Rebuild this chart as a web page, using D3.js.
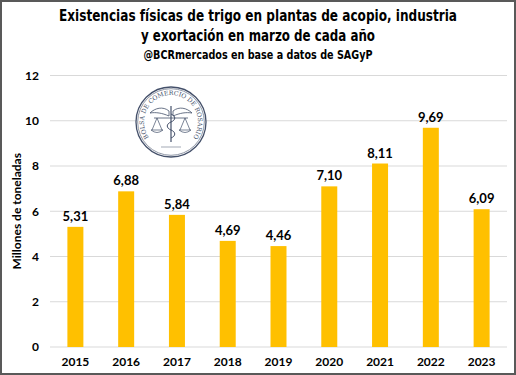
<!DOCTYPE html>
<html>
<head>
<meta charset="utf-8">
<script src="https://cdn.jsdelivr.net/npm/d3@7"></script>
<style>
  body { margin: 0; background: #fff; }
  svg { display: block; }
</style>
</head>
<body>
<div id="chart"></div>
<script>
const years = ["2015", "2016", "2017", "2018", "2019", "2020", "2021", "2022", "2023"];
const stocks = [5.31, 6.88, 5.84, 4.69, 4.46, 7.10, 8.11, 9.69, 6.09];
const yTicks = [0, 2, 4, 6, 8, 10, 12];
const titleLines = ["Existencias físicas de trigo en plantas de acopio, industria", "y exortación en marzo de cada año"];
const subtitle = "@BCRmercados en base a datos de SAGyP";
const yLabel = "Millones de toneladas";

const W = 516, H = 375;
const margin = { top: 75.5, right: 9, bottom: 28, left: 50 };
const width = W - margin.left - margin.right,
      height = H - margin.top - margin.bottom;

const svg = d3.select("#chart").append("svg")
  .attr("width", W)
  .attr("height", H);

// outer frame
svg.append("rect")
  .attr("x", 1).attr("y", 1)
  .attr("width", W - 2).attr("height", H - 2)
  .attr("fill", "#fff")
  .attr("stroke", "#595959")
  .attr("stroke-width", 2);

// titles (condensed bold, squeezed to the reference widths)
const titleFont = "'DejaVu Sans Condensed', 'Liberation Sans Narrow', sans-serif";
const titleLens = [398, 234];
svg.selectAll(".title")
  .data(titleLines)
  .join("text")
  .attr("class", "title")
  .attr("x", 258)
  .attr("y", (d, i) => 21 + i * 20)
  .attr("text-anchor", "middle")
  .attr("textLength", (d, i) => titleLens[i])
  .attr("lengthAdjust", "spacingAndGlyphs")
  .style("font-family", titleFont)
  .style("font-weight", "bold")
  .style("font-size", "15px")
  .attr("fill", "#000")
  .text(d => d);

svg.append("text")
  .attr("x", 258)
  .attr("y", 59)
  .attr("text-anchor", "middle")
  .attr("textLength", 229)
  .attr("lengthAdjust", "spacingAndGlyphs")
  .style("font-family", titleFont)
  .style("font-weight", "bold")
  .style("font-size", "12.5px")
  .text(subtitle);

const g = svg.append("g")
  .attr("transform", `translate(${margin.left},${margin.top})`);

// scales
const x = d3.scaleBand()
  .domain(years)
  .range([0, width])
  .paddingInner(0.685)
  .paddingOuter(0.3425);

const y = d3.scaleLinear()
  .domain([0, 12])
  .range([height, 0]);

const labelFont = "Lato, 'Open Sans', sans-serif";

// grid
g.selectAll(".grid")
  .data(yTicks)
  .join("line")
  .attr("class", "grid")
  .attr("x1", 0).attr("x2", width)
  .attr("y1", d => y(d)).attr("y2", d => y(d))
  .attr("stroke", "#d9d9d9")
  .attr("stroke-width", 1);

// y axis
const yAxis = g.append("g")
  .call(d3.axisLeft(y).tickValues(yTicks).tickSize(0).tickPadding(11));
yAxis.select(".domain").remove();
yAxis.selectAll("text")
  .style("font-family", labelFont)
  .style("font-weight", "bold")
  .style("font-size", "12px")
  .attr("fill", "#000");

// x axis
const xAxis = g.append("g")
  .attr("transform", `translate(0,${height})`)
  .call(d3.axisBottom(x).tickSize(0).tickPadding(10));
xAxis.select(".domain").remove();
xAxis.selectAll("text")
  .style("font-family", labelFont)
  .style("font-weight", "bold")
  .style("font-size", "12px")
  .attr("fill", "#000");

// y label
svg.append("text")
  .attr("transform", `translate(21,${margin.top + height / 2}) rotate(-90)`)
  .attr("text-anchor", "middle")
  .style("font-family", labelFont)
  .style("font-weight", "bold")
  .style("font-size", "12px")
  .text(yLabel);

// bars
const data = years.map((yr, i) => ({ year: yr, value: stocks[i] }));

g.selectAll(".bar")
  .data(data)
  .join("rect")
  .attr("class", "bar")
  .attr("x", d => x(d.year))
  .attr("width", x.bandwidth())
  .attr("y", d => y(d.value))
  .attr("height", d => height - y(d.value))
  .attr("fill", "#ffc000");

g.selectAll(".val")
  .data(data)
  .join("text")
  .attr("class", "val")
  .attr("x", d => x(d.year) + x.bandwidth() / 2)
  .attr("y", d => y(d.value) - 6)
  .attr("text-anchor", "middle")
  .style("font-family", labelFont)
  .style("font-weight", "bold")
  .style("font-size", "13px")
  .text(d => d.value.toFixed(2).replace(".", ","));

// seal / logo
const seal = svg.append("g").attr("transform", "translate(171,122)");
const ink = "#44506a";
seal.append("circle").attr("r", 35).attr("fill", "#fff").attr("stroke", ink).attr("stroke-width", 1.3);
seal.append("circle").attr("r", 33.3).attr("fill", "none").attr("stroke", ink).attr("stroke-width", 0.6);
// arc from ~8 o'clock over the top to ~4 o'clock for the lettering
const rText = 27;
const a0 = 222 * Math.PI / 180, a1 = -42 * Math.PI / 180;
const pt = a => [rText * Math.cos(a), -rText * Math.sin(a)];
const [sx, sy] = pt(a0), [ex, ey] = pt(a1);
seal.append("path")
  .attr("id", "sealArc")
  .attr("d", `M ${sx} ${sy} A ${rText} ${rText} 0 1 1 ${ex} ${ey}`)
  .attr("fill", "none");
seal.append("text")
  .style("font-family", "'DejaVu Serif', serif")
  .style("font-size", "6.2px")
  .attr("fill", ink)
  .append("textPath")
  .attr("href", "#sealArc")
  .attr("startOffset", "50%")
  .attr("text-anchor", "middle")
  .text("BOLSA DE COMERCIO DE ROSARIO");
// wings
seal.append("path")
  .attr("d", "M -2 -11 C -8 -16 -16 -14 -21 -9 C -15 -10 -9 -9 -2 -6 Z M 2 -11 C 8 -16 16 -14 21 -9 C 15 -10 9 -9 2 -6 Z")
  .attr("fill", "none").attr("stroke", ink).attr("stroke-width", 0.8);
// staff and snake
seal.append("line").attr("x1", 0).attr("x2", 0).attr("y1", -16).attr("y2", 20)
  .attr("stroke", ink).attr("stroke-width", 1.2);
seal.append("path")
  .attr("d", "M 0 -8 C 5 -6 5 -2 0 0 C -5 2 -5 6 0 8 C 5 10 5 14 0 16")
  .attr("fill", "none").attr("stroke", ink).attr("stroke-width", 1);
// scales
seal.append("line").attr("x1", -17).attr("x2", 17).attr("y1", -4).attr("y2", -4)
  .attr("stroke", ink).attr("stroke-width", 0.8);
[-14, 14].forEach(cx => {
  seal.append("path")
    .attr("d", `M ${cx} -4 L ${cx - 5} 8 M ${cx} -4 L ${cx + 5} 8 M ${cx - 6} 8 Q ${cx} 13 ${cx + 6} 8 Z`)
    .attr("fill", "none").attr("stroke", ink).attr("stroke-width", 0.7);
});
seal.append("line").attr("x1", -10).attr("x2", 10).attr("y1", 25).attr("y2", 25)
  .attr("stroke", ink).attr("stroke-width", 0.5);
</script>
</body>
</html>
